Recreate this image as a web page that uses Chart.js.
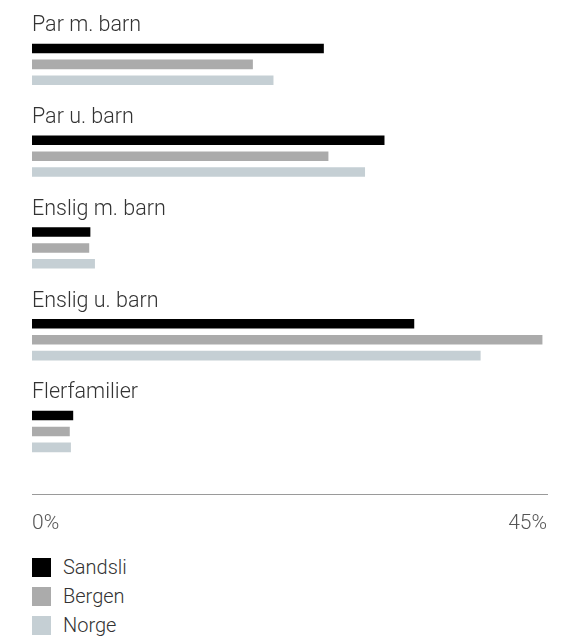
<!DOCTYPE html>
<html>
<head>
<meta charset="utf-8">
<script src="https://cdn.jsdelivr.net/npm/chart.js@4.4.1/dist/chart.umd.min.js"></script>
<style>
  body { margin: 0; background: #fff; font-family: Roboto, "Liberation Sans", sans-serif; }
  #wrap { position: relative; width: 573px; height: 552px; }
  #legend { position: absolute; left: 32px; top: 558px; }
  .legend-item { display: flex; align-items: flex-start; height: 29px; }
  .legend-box { width: 19px; height: 19px; margin-right: 12px; }
  .legend-text { font-size: 20px; font-weight: 300; line-height: 19px; color: #333; }
</style>
</head>
<body>
<div id="wrap"><canvas id="chart"></canvas></div>
<div id="legend"></div>
<script>
const categories = ["Par m. barn", "Par u. barn", "Enslig m. barn", "Enslig u. barn", "Flerfamilier"];
const seriesNames = ["Sandsli", "Bergen", "Norge"];
const sandsli = [25.5, 30.8, 5.1, 33.4, 3.6];
const bergen = [19.3, 25.9, 5.0, 44.6, 3.3];
const norge = [21.1, 29.1, 5.5, 39.2, 3.4];
const colors = ["#000000", "#ababab", "#c5cfd4"];
const axisTicks = [0, 45];

const fontFamily = "Roboto, 'Liberation Sans', sans-serif";

function toPoints(values) {
  return values.map((v, i) => ({ x: v, y: i }));
}

// category names sit above each group of bars
const groupLabels = {
  id: "groupLabels",
  afterDatasetsDraw(chart) {
    const { ctx, chartArea } = chart;
    const yScale = chart.scales.y;
    ctx.save();
    ctx.font = "300 21.5px " + fontFamily;
    ctx.fillStyle = "#333";
    ctx.textBaseline = "alphabetic";
    categories.forEach((label, i) => {
      ctx.fillText(label, chartArea.left, yScale.getPixelForValue(i) - 33);
    });
    ctx.restore();
  }
};

const chart = new Chart(document.getElementById("chart"), {
  type: "bar",
  data: {
    datasets: [sandsli, bergen, norge].map((values, i) => ({
      label: seriesNames[i],
      data: toPoints(values),
      backgroundColor: colors[i],
      categoryPercentage: 0.52,
      barPercentage: 0.6
    }))
  },
  options: {
    indexAxis: "y",
    responsive: true,
    maintainAspectRatio: false,
    animation: false,
    layout: { padding: { left: 32, right: 26, top: 18.5, bottom: 0 } },
    plugins: { legend: { display: false }, tooltip: { enabled: false } },
    scales: {
      x: {
        type: "linear",
        min: axisTicks[0],
        max: axisTicks[axisTicks.length - 1],
        afterBuildTicks: (scale) => {
          scale.ticks = axisTicks.map((v) => ({ value: v }));
        },
        grid: { display: false, drawTicks: false },
        border: { display: true, color: "#9a9a9a", width: 1 },
        ticks: {
          align: "inner",
          padding: 16,
          color: "#555",
          font: { family: fontFamily, size: 21, weight: 300 },
          callback: (v) => v + "%"
        }
      },
      y: {
        type: "linear",
        reverse: true,
        offset: false,
        min: -0.5,
        max: 4.69,
        display: false,
        afterBuildTicks: (scale) => {
          scale.ticks = categories.map((c, i) => ({ value: i }));
        }
      }
    }
  },
  plugins: [groupLabels]
});

const legend = document.getElementById("legend");
chart.data.datasets.forEach((ds) => {
  legend.innerHTML += `
    <div class="legend-item">
      <div class="legend-box" style="background:${ds.backgroundColor}"></div>
      <span class="legend-text">${ds.label}</span>
    </div>
  `;
});
</script>
</body>
</html>
